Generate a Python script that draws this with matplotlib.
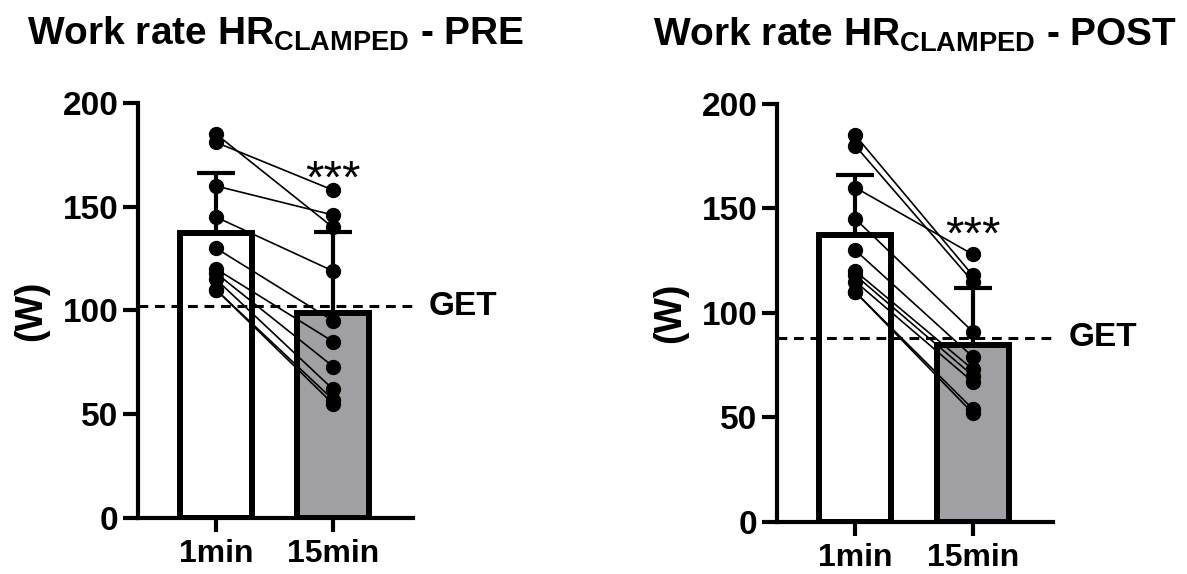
import matplotlib
matplotlib.use("Agg")
import matplotlib.pyplot as plt
import numpy as np

plt.rcParams['font.family'] = ['Liberation Sans', 'DejaVu Sans']
plt.rcParams['font.weight'] = 'bold'
plt.rcParams['mathtext.fontset'] = 'custom'
plt.rcParams['mathtext.rm'] = 'Liberation Sans:bold'
plt.rcParams['mathtext.bf'] = 'Liberation Sans:bold'
plt.rcParams['mathtext.default'] = 'bf'

# work rate (W) at 1 and 15 min of HR-clamped exercise, one entry per subject
conditions = ["1min", "15min"]
pre_1min = [185, 181, 160, 145, 130, 120, 118, 115, 110, 110]
pre_15min = [140, 158, 146, 119, 95, 85, 73, 62, 57, 55]
post_1min = [185, 180, 160, 145, 130, 120, 118, 115, 110, 110]
post_15min = [118, 115, 128, 91, 79, 73, 70, 67, 54, 52]
get_pre = 102
get_post = 88
titles = ["Work rate HR$_{CLAMPED}$ - PRE", "Work rate HR$_{CLAMPED}$ - POST"]

fig = plt.figure(figsize=(11.87, 5.74), dpi=100)
ax1 = fig.add_axes([0.1163, 0.0976, 0.2317, 0.723])
ax2 = fig.add_axes([0.6546, 0.0911, 0.2325, 0.7277])


def panel(ax, first, second, get, title):
    first = np.array(first, dtype=float)
    second = np.array(second, dtype=float)
    x = np.arange(2)
    means = [first.mean(), second.mean()]
    sds = [first.std(ddof=1), second.std(ddof=1)]

    ax.bar(x, means, width=0.615, color=['white', '#a0a0a4'],
           edgecolor='black', linewidth=4.3, zorder=2)
    # paired lines for each subject
    for a, b in zip(first, second):
        ax.plot(x, [a, b], color='black', lw=1.2, zorder=3, clip_on=False)
    ax.plot(np.zeros(len(first)), first, 'o', color='black', ms=10,
            zorder=4, clip_on=False)
    ax.plot(np.ones(len(second)), second, 'o', color='black', ms=10,
            zorder=4, clip_on=False)
    ax.errorbar(x, means, yerr=[[0, 0], sds], fmt='none', ecolor='black',
                elinewidth=3, capsize=14, capthick=3, zorder=5)

    # gas exchange threshold
    ax.axhline(get, color='black', lw=2.2, linestyle=(0, (3.2, 2.2)),
               zorder=6, clip_on=False)
    ax.text(1.82, get, "GET", fontsize=24, fontweight='bold',
            va='center', ha='left', clip_on=False)

    ax.text(1, means[1] + sds[1] + 14, "***", fontsize=34,
            fontweight='normal', ha='center', va='bottom')

    ax.set_xlim(-0.667, 1.684)
    ax.set_ylim(0, 200)
    ax.set_yticks([0, 50, 100, 150, 200])
    ax.set_xticks(x)
    ax.set_xticklabels(conditions)
    ax.spines['right'].set_visible(False)
    ax.spines['top'].set_visible(False)
    ax.spines['left'].set_linewidth(3)
    ax.spines['bottom'].set_linewidth(3)
    ax.tick_params(axis='y', length=11, width=3, labelsize=24, pad=3)
    ax.tick_params(axis='x', length=10, width=3, labelsize=23, pad=5)
    ax.set_ylabel("(W)", fontsize=27, fontweight='bold', labelpad=10)
    ax.set_title(title, fontsize=28, fontweight='bold', pad=42)


panel(ax1, pre_1min, pre_15min, get_pre, titles[0])
panel(ax2, post_1min, post_15min, get_post, titles[1])

fig.savefig("out.png", dpi=100)
